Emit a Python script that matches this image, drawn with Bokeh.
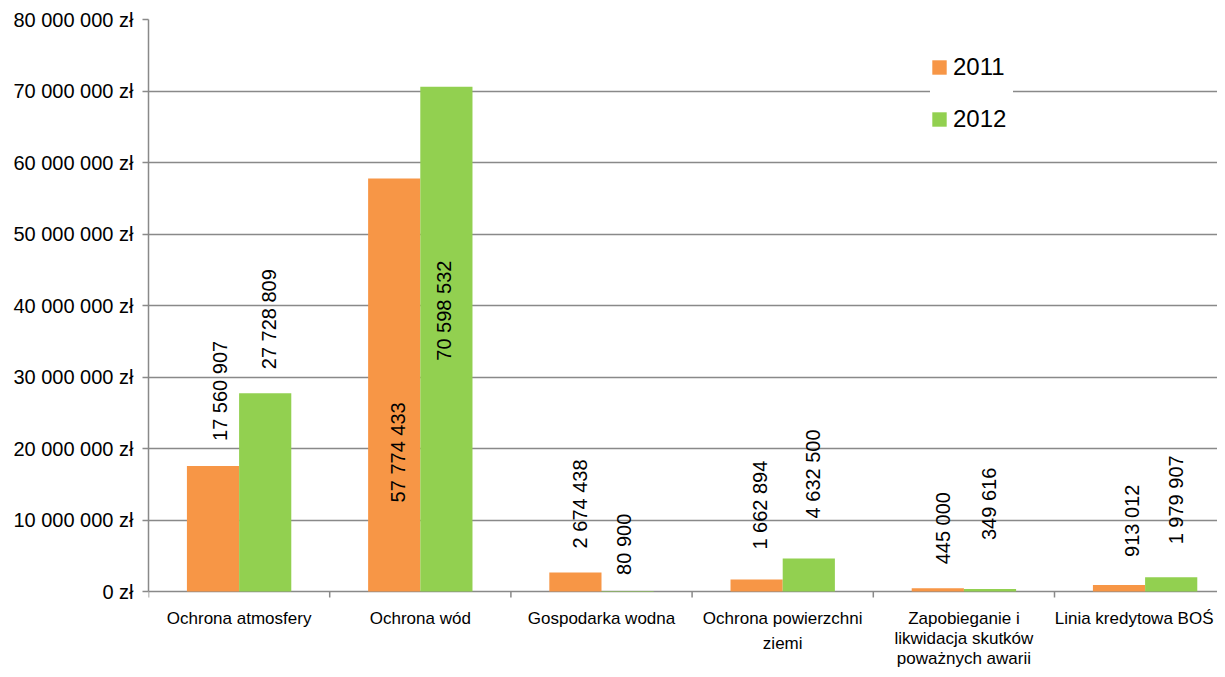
import math
from bokeh.plotting import figure
from bokeh.models import (ColumnDataSource, Range1d, FixedTicker, Legend, LegendItem)
from bokeh.core.properties import value
from bokeh.embed import file_html
from bokeh.resources import INLINE

categories = ["Ochrona atmosfery", "Ochrona wód", "Gospodarka wodna",
              "Ochrona powierzchni\nziemi",
              "Zapobieganie i\nlikwidacja skutków\npoważnych awarii",
              "Linia kredytowa BOŚ"]
values_2011 = [17560907, 57774433, 2674438, 1662894, 445000, 913012]
values_2012 = [27728809, 70598532, 80900, 4632500, 349616, 1979907]
y_ticks = [0, 10000000, 20000000, 30000000, 40000000, 50000000, 60000000, 70000000, 80000000]
series_names = ["2011", "2012"]

# label placement (pixels): horizontal shift from bar centre, gap above bar top
lab_dx_2011 = [6.5, 4, 4.5, 3.5, 5.5, 12.5]
lab_dx_2012 = [3.5, -2, -4, 4.5, -1, 4.5]
lab_gap_2011 = [25, -324, 24, 30, 24, 28]
lab_gap_2012 = [24, -274, 16, 40, 49, 33]
# horizontal nudge (pixels) of category names, keeps the last one inside the page
cat_dx = [0, 0, 0, 0, 0, -11]

ORANGE = "#F79646"
GREEN = "#92D050"
GRAY = "#898989"
FONT = "Liberation Sans"

W, H = 1217, 669
BL, BT = 148, 19
plot_px = 572          # pixels from 0 to 80 000 000
below_px = H - BT - plot_px   # room under the zero line for category names
frame_w = W - BL
cat_px = 181.2
x_end = frame_w / cat_px
y_max = 80000000
px_per_y = plot_px / y_max
bw = 0.288

p = figure(width=W, height=H, output_backend="svg", toolbar_location=None,
           x_range=Range1d(0, x_end),
           y_range=Range1d(-below_px / px_per_y, y_max),
           min_border_left=BL, min_border_right=0, min_border_top=BT,
           min_border_bottom=0)
p.outline_line_color = None
p.background_fill_color = "white"
p.border_fill_color = "white"

n = len(categories)
x11 = [i + 0.5 - bw / 2 for i in range(n)]
x12 = [i + 0.5 + bw / 2 for i in range(n)]

# grid (the zero line doubles as the category axis line)
p.xgrid.grid_line_color = None
p.ygrid.grid_line_color = GRAY
p.ygrid.grid_line_width = 1.5

# category boundary ticks under the zero line
bounds = list(range(n + 1))
p.segment(x0=bounds, y0=[0] * len(bounds), x1=bounds,
          y1=[-6 / px_per_y] * len(bounds), line_color=GRAY, line_width=1.5)

src11 = ColumnDataSource(dict(x=x11, top=values_2011))
src12 = ColumnDataSource(dict(x=x12, top=values_2012))
r11 = p.vbar(x="x", top="top", bottom=0, width=bw, source=src11,
             fill_color=ORANGE, line_color=None)
r12 = p.vbar(x="x", top="top", bottom=0, width=bw, source=src12,
             fill_color=GREEN, line_color=None)

def fmt(v):
    return f"{v:,}".replace(",", " ")

lx, ly, lt = [], [], []
for xs, vals, dxs, gaps in ((x11, values_2011, lab_dx_2011, lab_gap_2011),
                            (x12, values_2012, lab_dx_2012, lab_gap_2012)):
    for xc, v, dx, g in zip(xs, vals, dxs, gaps):
        lx.append(xc + dx / cat_px)
        ly.append(v + g / px_per_y)
        lt.append(fmt(v))

lsrc = ColumnDataSource(dict(x=lx, y=ly, text=lt))
p.text(x="x", y="y", text="text", source=lsrc, angle=math.pi / 2,
       text_align="left", text_baseline="middle",
       text_font=value(FONT), text_font_size=value("20px"), text_color="black")

# category names below the zero line (one entry per text line)
cx, cy, ct = [], [], []
for i, c in enumerate(categories):
    lines = c.split("\n")
    step = 25 if len(lines) < 3 else 20
    for k, line in enumerate(lines):
        cx.append(i + 0.5 + cat_dx[i] / cat_px)
        cy.append(-(27 + step * k) / px_per_y)
        ct.append(line)
csrc = ColumnDataSource(dict(x=cx, y=cy, text=ct))
p.text(x="x", y="y", text="text", source=csrc,
       text_align="center", text_baseline="middle",
       text_font=value(FONT), text_font_size=value("17px"), text_color="black")

# y axis
p.yaxis.ticker = FixedTicker(ticks=y_ticks, minor_ticks=[])
p.yaxis.bounds = (0, y_max)
p.yaxis.major_label_overrides = {t: fmt(t) + " zł" for t in y_ticks}
p.yaxis.axis_line_color = GRAY
p.yaxis.axis_line_width = 1.5
p.yaxis.major_tick_line_color = GRAY
p.yaxis.major_tick_line_width = 1.5
p.yaxis.major_tick_out = 6
p.yaxis.major_tick_in = 0
p.yaxis.minor_tick_line_color = None
p.yaxis.major_label_standoff = 9
p.yaxis.major_label_text_font = FONT
p.yaxis.major_label_text_font_size = "20px"
p.yaxis.major_label_text_color = "black"

p.xaxis.visible = False

legend = Legend(items=[LegendItem(label=series_names[0], renderers=[r11]),
                       LegendItem(label=series_names[1], renderers=[r12])],
                location=(782, 536), orientation="vertical",
                glyph_width=18, glyph_height=18, label_height=26,
                label_width=60,
                label_standoff=5, spacing=24, padding=17, margin=0,
                label_text_font=FONT, label_text_font_size="24px",
                label_text_color="black", border_line_color=None,
                background_fill_color="white", background_fill_alpha=1.0)
p.add_layout(legend, "center")

open("out.html", "w").write(file_html(p, INLINE))
